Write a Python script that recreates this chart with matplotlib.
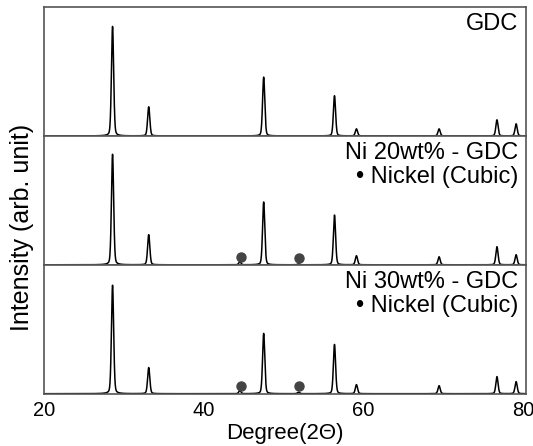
import numpy as np
import matplotlib
matplotlib.use("Agg")
import matplotlib.pyplot as plt

plt.rcParams['font.family'] = ['Liberation Sans', 'DejaVu Sans']

# Peak positions (2theta) and heights
gdc_pos = [28.55, 33.08, 47.48, 56.35, 59.1, 69.45, 76.7, 79.1]
ni_pos = [44.5, 51.85]

gdc_h = [109, 29, 58.5, 40, 7, 7, 16, 12]
ni20_h = [110, 30, 62.5, 49.5, 9, 8, 18, 10]
ni20_ni_h = [3, 1]
ni30_h = [108, 26, 60, 49, 9, 8, 17, 12]
ni30_ni_h = [3, 1.5]

labels = ["GDC", "Ni 20wt% - GDC", "Ni 30wt% - GDC"]
xticks = [20, 40, 60, 80]

x = np.linspace(20, 80.3, 6000)


def profile(pos, heights, width=0.14):
    y = np.zeros_like(x)
    for p, h in zip(pos, heights):
        g = np.exp(-0.5 * ((x - p) / width) ** 2)
        l = 1.0 / (1.0 + ((x - p) / (width * 1.1)) ** 2)
        y += h * (0.75 * g + 0.25 * l)
    return y


fig = plt.figure(figsize=(5.33, 4.46), dpi=100)
left, right, top, bottom = 0.0831, 0.9863, 0.9836, 0.1166
ph = (top - bottom) / 3
axes = []
for i in range(3):
    ax = fig.add_axes([left, top - (i + 1) * ph, right - left, ph])
    axes.append(ax)

series = [
    (gdc_h, None),
    (ni20_h, ni20_ni_h),
    (ni30_h, ni30_ni_h),
]

spine_col = '#555555'
for i, (ax, (h, nh)) in enumerate(zip(axes, series)):
    y = profile(gdc_pos, h)
    if nh is not None:
        y += profile(ni_pos, nh)
    ax.plot(x, y, color='black', lw=1.1)
    ax.set_xlim(20, 80.3)
    ax.set_ylim(-0.3, 128)
    ax.set_yticks([])
    for s in ax.spines.values():
        s.set_color(spine_col)
        s.set_linewidth(1.2)
    if i < 2:
        ax.set_xticks([])
    else:
        ax.set_xticks(xticks)
        ax.tick_params(axis='x', length=0, labelsize=14.5, pad=5)
    ax.text(0.985, 0.955, labels[i], transform=ax.transAxes, ha='right', va='top',
            fontsize=17)
    if nh is not None:
        ax.text(0.985, 0.765, "\u2022 Nickel (Cubic)", transform=ax.transAxes,
                ha='right', va='top', fontsize=17)
        mx = [p + 0.1 for p in ni_pos]
        my = [nh[0] + 5, nh[1] + 6]
        ax.plot(mx, my, 'o', color='#444444', markersize=6.5, linestyle='none')

fig.text((left + right) / 2, 0.027, "Degree(2\u0398)", ha='center', va='center',
         fontsize=16)
fig.text(0.042, 0.49, "Intensity (arb. unit)", rotation=90,
         ha='center', va='center', fontsize=18)

fig.savefig("out.png", dpi=100)
